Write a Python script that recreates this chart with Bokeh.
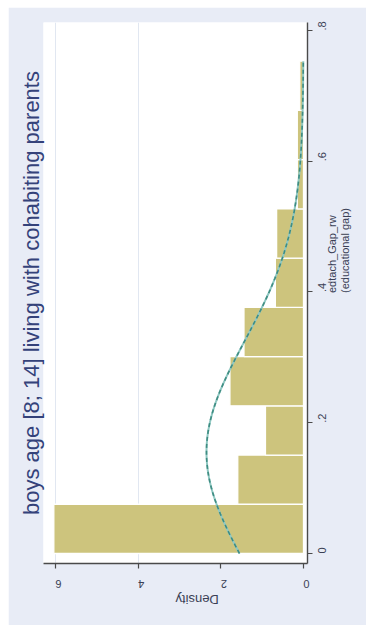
import numpy as np
from bokeh.plotting import figure
from bokeh.models import Range1d, FixedTicker
from bokeh.embed import file_html
from bokeh.resources import INLINE

# --- chart data -------------------------------------------------------------
title_text = "boys age [8; 14] living with cohabiting parents"
gap_title = "edtach_Gap_rw\n(educational gap)"
density_title = "Density"

bin_start = 0.0
bin_width = 0.0753
densities = [6.04, 1.59, 0.92, 1.78, 1.44, 0.68, 0.65, 0.15, 0.15, 0.09]

gap_ticks = [0, 0.2, 0.4, 0.6, 0.8]
gap_tick_labels = ["0", ".2", ".4", ".6", ".8"]
density_ticks = [0, 2, 4, 6]
density_tick_labels = ["0", "2", "4", "6"]
density_grid = [4, 6]

# fitted normal overlay
gap_mean = 0.155
gap_sd = 0.17

# --- styling ----------------------------------------------------------------
FONT = "Liberation Sans"
BAR = "#cdc47d"
PANEL = "#e8ecf6"
AXIS = "#4a4a4a"
TEXT = "#3a3f55"

# Rotated layout: density runs right-to-left along the bottom, the gap runs
# bottom-to-top with its axis on the right.
p = figure(
    width=358, height=618,
    x_range=Range1d(6.29, -0.097),
    y_range=Range1d(-0.0153, 0.8122),
    x_axis_location="below", y_axis_location="right",
    output_backend="svg", toolbar_location=None,
    title=title_text, title_location="left",
    min_border_left=35, min_border_right=59,
    min_border_top=15, min_border_bottom=62,
    border_fill_color=PANEL, background_fill_color="white",
    outline_line_color=None,
)
p.margin = (7, 0, 3, 8)

p.title.text_font = FONT
p.title.text_font_size = "22px"
p.title.text_font_style = "normal"
p.title.text_color = "#34427a"
p.title.align = "center"
p.title.offset = 0
p.title.standoff = 0

# grid
p.ygrid.visible = False
p.xgrid.ticker = FixedTicker(ticks=density_grid)
p.xgrid.grid_line_color = "#e1e7f1"
p.xgrid.grid_line_width = 1

# histogram bars
edges = [bin_start + i * bin_width for i in range(len(densities) + 1)]
centers = [(edges[i] + edges[i + 1]) / 2 for i in range(len(densities))]
p.hbar(y=centers, height=bin_width, left=0, right=densities,
       fill_color=BAR, line_color="white", line_width=1.3)

# normal density overlay
gx = np.linspace(edges[0], edges[-1], 300)
gy = np.exp(-0.5 * ((gx - gap_mean) / gap_sd) ** 2) / (gap_sd * np.sqrt(2 * np.pi))
p.line(x=gy, y=gx, line_color="#8fc8c2", line_width=2)
p.line(x=gy, y=gx, line_color="#3f8c82", line_width=1.6, line_dash="4 3")


def style_axis(ax, ticks, labels, orientation, standoff):
    ax.ticker = FixedTicker(ticks=ticks)
    ax.major_label_overrides = {t: s for t, s in zip(ticks, labels)}
    ax.major_label_orientation = orientation
    ax.axis_line_color = AXIS
    ax.axis_line_width = 1.4
    ax.major_tick_line_color = AXIS
    ax.major_tick_line_width = 1.2
    ax.major_tick_in = 0
    ax.major_tick_out = 5
    ax.minor_tick_line_color = None
    ax.major_label_standoff = standoff
    ax.major_label_text_font = FONT
    ax.major_label_text_font_size = "11px"
    ax.major_label_text_color = TEXT
    ax.axis_label_text_font = FONT
    ax.axis_label_text_font_style = "normal"
    ax.axis_label_text_color = TEXT


# density axis (bottom), labels upside down
xa = p.xaxis[0]
style_axis(xa, density_ticks, density_tick_labels, np.pi, 15)
xa.axis_label = density_title
xa.axis_label_text_font_size = "13px"
xa.axis_label_standoff = 5
if "axis_label_orientation" in xa.properties():
    xa.axis_label_orientation = np.pi

# gap axis (right), labels reading upwards
ya = p.yaxis[0]
style_axis(ya, gap_ticks, gap_tick_labels, np.pi / 2, 10)
ya.axis_label = gap_title
ya.axis_label_text_font_size = "11px"
ya.axis_label_text_line_height = 1.05
ya.axis_label_standoff = 5
if "axis_label_orientation" in ya.properties():
    ya.axis_label_orientation = np.pi / 2

open("out.html", "w").write(file_html(p, INLINE))
